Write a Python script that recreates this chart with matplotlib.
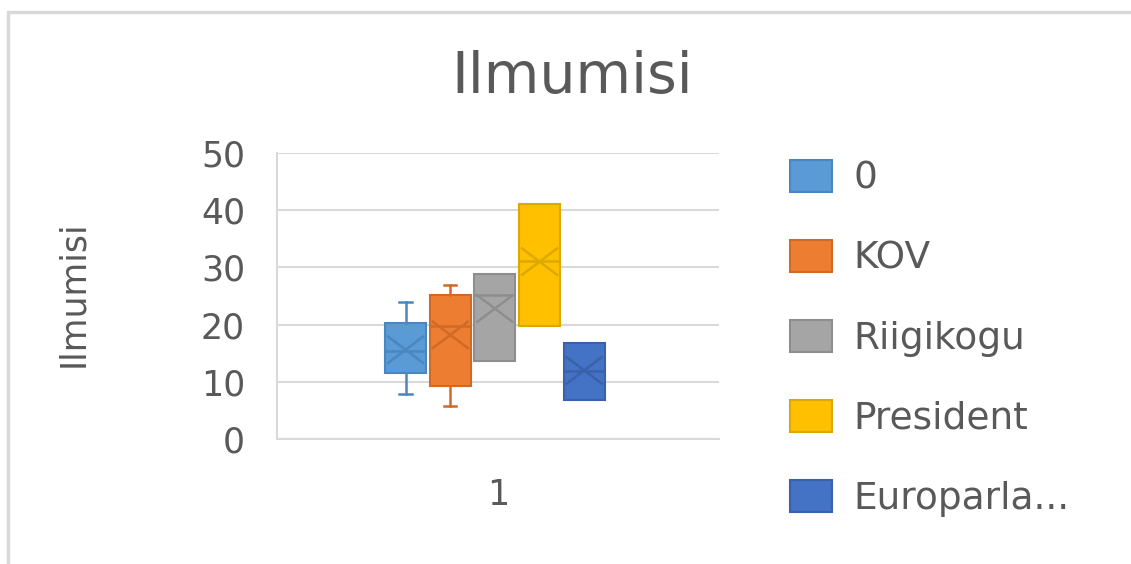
import matplotlib
matplotlib.use("Agg")
import matplotlib.pyplot as plt
from matplotlib.patches import Patch, Rectangle

plt.rcParams['font.family'] = ['DejaVu Sans']

# data
series = ["0", "KOV", "Riigikogu", "President", "Europarla..."]
whis_lo = [7.8, 5.8, 13.6, 19.8, 6.8]
q1 = [11.5, 9.3, 13.6, 19.8, 6.8]
median = [15.3, 19.8, 25.2, 31.1, 11.9]
q3 = [20.2, 25.2, 28.8, 41.0, 16.8]
whis_hi = [23.9, 26.9, 28.8, 41.0, 16.8]
means = [15.6, 18.2, 22.8, 31.0, 12.0]

fills = ["#5B9BD5", "#ED7D31", "#A5A5A5", "#FFC000", "#4472C4"]
edges = ["#4A86C0", "#D06A26", "#8E8E8E", "#DDA800", "#3A62AA"]
txt = "#595959"
grid = "#D9D9D9"

fig = plt.figure(figsize=(11.31, 5.64), dpi=100)
ax = fig.add_axes([277/1131, 1-439/564, 442/1131, 286/564])

width = 0.093
for i, name in enumerate(series):
    pos = 0.993 + (i - 2) * 0.101
    st = dict(whislo=whis_lo[i], q1=q1[i], med=median[i], q3=q3[i],
              whishi=whis_hi[i], mean=means[i], label=name)
    has_whis = whis_lo[i] < q1[i] or whis_hi[i] > q3[i]
    ax.bxp([st], positions=[pos], widths=width, patch_artist=True,
           showmeans=False, showcaps=has_whis, showfliers=False,
           capwidths=0.028,
           boxprops=dict(facecolor=fills[i], edgecolor=edges[i], linewidth=1.5),
           medianprops=dict(color=edges[i], linewidth=1.8),
           whiskerprops=dict(color=edges[i], linewidth=1.8),
           capprops=dict(color=edges[i], linewidth=1.8))
    # wide X marker for the mean, like Excel
    hw = width / 2 * 0.85
    hh = 2.3
    ax.plot([pos - hw, pos + hw], [means[i] - hh, means[i] + hh], color=edges[i], lw=1.8, zorder=4)
    ax.plot([pos - hw, pos + hw], [means[i] + hh, means[i] - hh], color=edges[i], lw=1.8, zorder=4)

ax.set_xlim(0.5, 1.5)
ax.set_ylim(0, 50)
ax.set_yticks([0, 10, 20, 30, 40, 50])
ax.set_xticks([1])
ax.set_xticklabels(["1"])
ax.tick_params(axis='y', length=0, pad=23, labelsize=25, labelcolor=txt)
ax.tick_params(axis='x', length=0, pad=28, labelsize=25, labelcolor=txt)
ax.yaxis.grid(True, color=grid, lw=1.5)
ax.set_axisbelow(True)
for s in ["top", "right"]:
    ax.spines[s].set_visible(False)
for s in ["left", "bottom"]:
    ax.spines[s].set_color(grid)
    ax.spines[s].set_linewidth(1.5)

fig.text(572/1131, 1-93/564, "Ilmumisi", ha='center', va='baseline', fontsize=41, color=txt)
fig.text(83/1131, 1-294/564, "Ilmumisi", ha='center', va='baseline', rotation=90,
         rotation_mode='anchor', fontsize=25, color=txt)

handles = [Patch(facecolor=f, edgecolor=e, lw=1.5) for f, e in zip(fills, edges)]
fig.legend(handles, series, loc='upper left', bbox_to_anchor=(790/1131, 1-160/564),
           frameon=False, fontsize=27, labelcolor=txt, handlelength=1.12, handleheight=0.93,
           handletextpad=0.56, labelspacing=1.15, borderpad=0, borderaxespad=0)

fig.patches.append(Rectangle((8/1131, -0.1), 1.2, 1 - 12/564 + 0.1, transform=fig.transFigure,
                             fill=False, edgecolor=grid, lw=2.5))

fig.savefig("out.png", dpi=100, facecolor="white")
